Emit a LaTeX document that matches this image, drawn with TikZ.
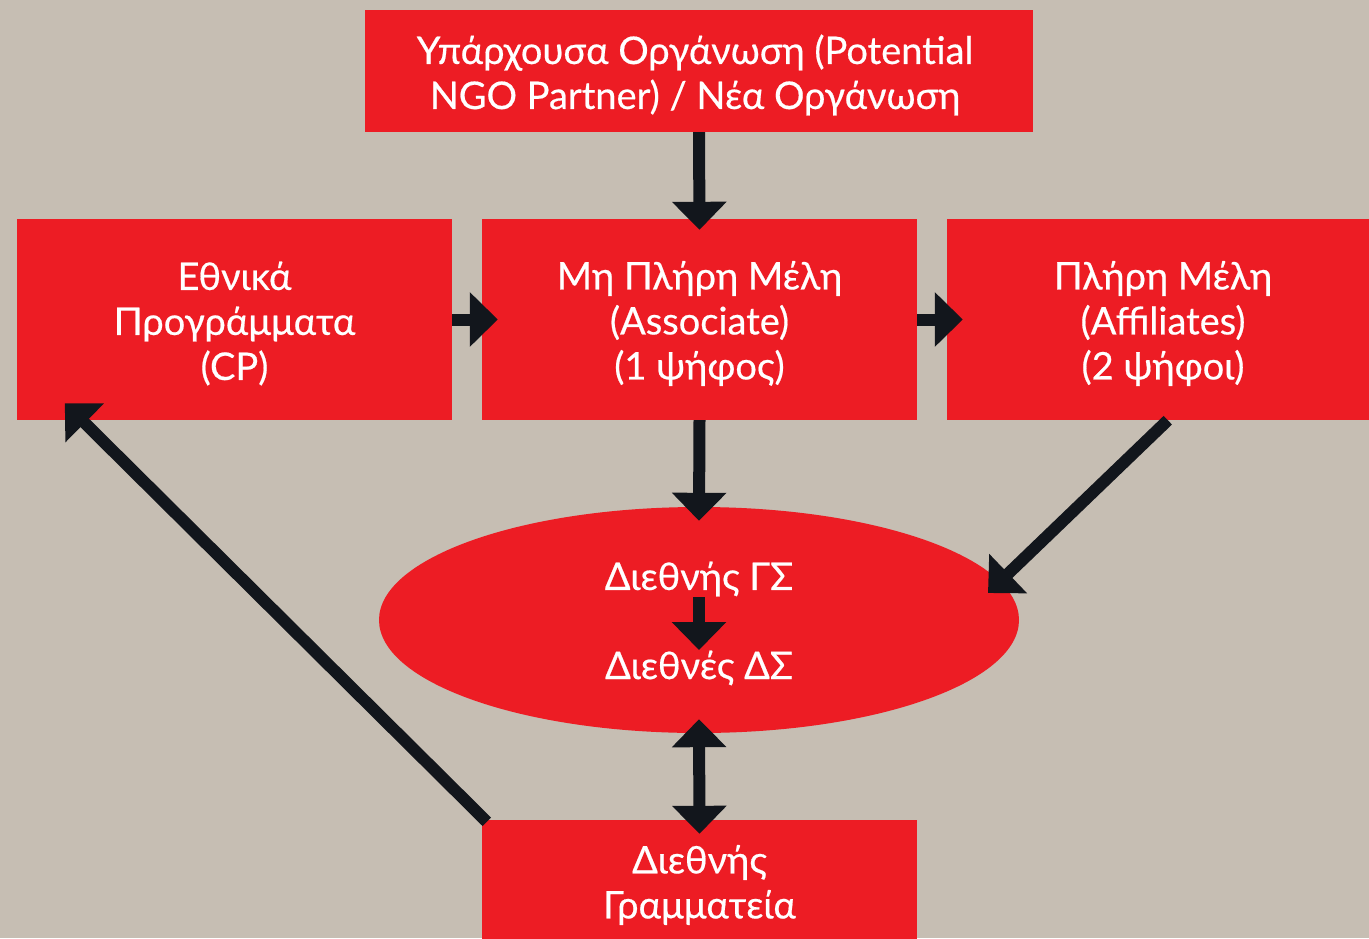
\documentclass[tikz,border=0pt]{standalone}
\usepackage{fontspec}
\setmainfont{Lato}
\newfontfamily\lblfont[FakeBold=0.5]{Lato}
\usetikzlibrary{arrows.meta,calc,shapes.geometric}
\definecolor{bgc}{HTML}{C6BEB3}
\definecolor{redc}{HTML}{ED1C24}
\definecolor{darkc}{HTML}{12161C}
\tikzset{
  box/.style={rectangle,fill=redc,draw=none,inner sep=0pt},
  boxtext/.style={inner sep=0pt,text=white,align=center,yshift=-4pt,
    font=\lblfont\fontsize{38}{45}\selectfont},
  lbl/.style={inner sep=0pt,text=white,font=\lblfont\fontsize{38}{45}\selectfont},
  arr/.style={draw=darkc,line width=12pt,-{Triangle[length=28pt,width=53pt]},fill=darkc},
  darr/.style={draw=darkc,line width=12pt,{Triangle[length=28pt,width=53pt]}-{Triangle[length=28pt,width=53pt]},fill=darkc}
}
\begin{document}
\begin{tikzpicture}[x=1pt,y=-1pt]
\fill[bgc] (0,0) rectangle (1369,938);
\useasboundingbox (0,0) rectangle (1369,938);
\clip (0,0) rectangle (1369,938);
\node[box,minimum width=668pt,minimum height=122pt,
  label={[boxtext,xshift=-4pt]center:{Υπάρχουσα Οργάνωση (Potential\\NGO Partner) / Νέα Οργάνωση}}] (top) at (699,71) {};
\node[box,minimum width=435pt,minimum height=201pt,
  label={[boxtext]center:{Εθνικά\\Προγράμματα\\(CP)}}] (left) at (234.5,319.5) {};
\node[box,minimum width=435pt,minimum height=201pt,
  label={[boxtext]center:{Μη Πλήρη Μέλη\\(Associate)\\(1 ψήφος)}}] (mid) at (699.5,319.5) {};
\node[box,minimum width=432pt,minimum height=201pt,
  label={[boxtext]center:{Πλήρη Μέλη\\(Affiliates)\\(2 ψήφοι)}}] (right) at (1163,319.5) {};
\node[ellipse,fill=redc,draw=none,inner sep=0pt,minimum width=640pt,minimum height=226pt] (ell) at (699,620) {};
\node[lbl] (gs) at (699,579) {Διεθνής ΓΣ};
\node[lbl] (ds) at (699,668) {Διεθνές ΔΣ};
\node[box,minimum width=435pt,minimum height=126pt,
  label={[boxtext,yshift=2pt]center:{Διεθνής\\Γραμματεία}}] (bot) at (699.5,883) {};
% connectors
\draw[arr] (top.south) -- ($(mid.north)+(0,11)$);
\draw[arr] (left.east) -- ($(mid.west)+(16,0)$);
\draw[arr] (mid.east) -- ($(right.west)+(16,0)$);
\draw[arr] (mid.south) -- ($(ell.north)+(0,14)$);
\draw[arr] ($(right.south west)+(221,0)$) -- (988,593);
\draw[arr] ($(gs.center)+(0,18)$) -- ($(ds.center)+(0,-18)$);
\draw[darr] ($(ell.south)+(0,-14)$) -- ($(bot.north)+(0,14)$);
\draw[arr] ($(bot.north west)+(5,2)$) -- ($(left.south west)+(48,-17)$);
\end{tikzpicture}
\end{document}
